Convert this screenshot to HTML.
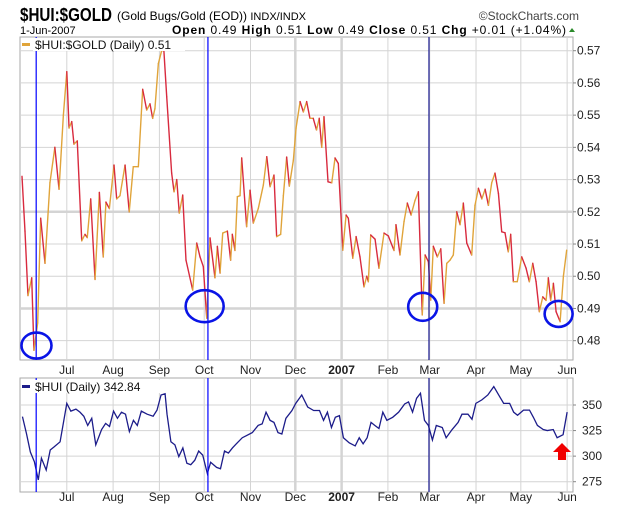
<!DOCTYPE html>
<html><head><meta charset="utf-8"><style>
body{margin:0;background:#fff;width:620px;height:511px;overflow:hidden;font-family:"Liberation Sans",Arial,sans-serif}
svg{position:absolute;left:0;top:0}
</style></head><body>
<svg width="620" height="511" xmlns="http://www.w3.org/2000/svg" id="chart">
<g id="hdr">
<text x="20" y="21" font-size="18" font-weight="bold" textLength="92" lengthAdjust="spacingAndGlyphs">$HUI:$GOLD</text>
<text x="117" y="20" font-size="12">(Gold Bugs/Gold (EOD)) <tspan font-size="11">INDX/INDX</tspan></text>
<text x="579" y="20" font-size="12" fill="#444" text-anchor="end">©StockCharts.com</text>
<text x="20" y="34" font-size="11">1-Jun-2007</text>
<text x="172" y="34" font-size="12" textLength="394" lengthAdjust="spacing"><tspan font-weight="bold">Open</tspan> 0.49  <tspan font-weight="bold">High</tspan> 0.51  <tspan font-weight="bold">Low</tspan> 0.49  <tspan font-weight="bold">Close</tspan> 0.51  <tspan font-weight="bold">Chg</tspan> +0.01 (+1.04%)</text>
<polygon points="569,32 575,32 572,28" fill="#2a8a2a"/>
</g>
<g id="main"></g>
<g id="lower"></g>
</svg>
<script>
const ratioDays=[0,2,4,6.5,8,10.5,12.5,15.4,18.7,22,24.8,27.7,30,31.5,33.3,34.8,37,40,42.2,43.7,46,48.9,51.8,54.4,56.2,58.5,61.6,63.4,65.6,69,71.8,74.5,77.9,80.8,83.5,85.7,87.5,89,91.3,93.5,95,96.9,100.2,101.8,103.6,105.3,107.6,109.8,114.3,117,119.2,121.4,123.7,125.9,129.2,130.8,132.6,134.4,137.5,139.7,140.8,142.6,144.2,146,147.1,150.4,152.7,154.9,158.2,161.6,163.9,166.1,168.7,170.5,173.2,175,177.2,179,181.7,183.5,186.2,188.4,190.6,192.8,195,197.2,199,200.7,202.2,204.9,207.4,209.6,211.8,214.8,217,218.5,221.5,223.7,226.3,229,230.8,231.9,233.5,236.4,239,242.4,245.3,249.1,250.4,253.1,255.8,258,260.5,263.2,265.4,268,269.9,272.1,273.7,275.4,278.1,280.4,282.6,284.4,286.6,288.8,291.1,293.3,295.5,297.8,301.1,303.3,305.6,307.9,310.1,312.3,314.5,316.7,319,321.2,323.4,325.6,327.2,329,331.6,334.6,337.5,339.7,342,344.2,346.4,348.7,350.9,352.4,354,355.8,357.6,360.3,362.5,364.7];
const ratioValues=[0.531,0.514,0.494,0.4995,0.477,0.4855,0.518,0.504,0.529,0.540,0.527,0.550,0.5635,0.546,0.548,0.541,0.542,0.511,0.513,0.512,0.524,0.499,0.526,0.506,0.523,0.521,0.5345,0.524,0.525,0.5345,0.520,0.534,0.534,0.558,0.5516,0.5535,0.549,0.552,0.566,0.570,0.570,0.5557,0.532,0.5262,0.530,0.5196,0.5252,0.505,0.4957,0.5103,0.506,0.503,0.487,0.5119,0.4995,0.5093,0.501,0.5134,0.514,0.505,0.513,0.508,0.5247,0.525,0.5367,0.5154,0.5267,0.5165,0.521,0.5283,0.5371,0.5278,0.5314,0.5123,0.513,0.525,0.537,0.528,0.536,0.546,0.5542,0.551,0.5542,0.549,0.549,0.5454,0.549,0.540,0.5495,0.5293,0.529,0.5367,0.535,0.5081,0.519,0.518,0.5056,0.5123,0.506,0.4967,0.500,0.4983,0.5128,0.5115,0.5025,0.5134,0.5125,0.508,0.516,0.5066,0.517,0.5227,0.519,0.5236,0.5262,0.488,0.5066,0.5045,0.4926,0.5093,0.506,0.5085,0.4916,0.504,0.505,0.5066,0.520,0.516,0.5227,0.5103,0.5066,0.522,0.5273,0.524,0.527,0.522,0.529,0.532,0.5257,0.5138,0.5135,0.5076,0.513,0.4983,0.4983,0.506,0.5025,0.4983,0.504,0.4983,0.489,0.4936,0.4925,0.4995,0.4925,0.4978,0.489,0.4859,0.500,0.5081];
const huiDays=[0.3,3,5.6,8.3,10.9,13,16.2,18.9,21.5,25.5,30,32.7,36.1,38.8,41.4,44,46.7,49.4,53.3,56,58.6,61.3,63.9,66.6,69.3,71.9,74.6,77.2,79.9,83.8,87.8,90.4,93.1,95.8,97.1,99.7,102.4,105,107.7,110.4,113,115.7,118.3,121,124.1,126.3,130.3,132.9,135.6,138.2,140.9,143.5,147.5,150.2,154.2,158.1,160.8,163.4,166.1,168.7,171.4,174,176.7,180.7,183.3,187.3,191.3,195.3,199.2,201.9,204.5,207.2,209.8,212.5,215.2,219.1,223.1,225.8,228.4,231.1,233.7,236.3,239,241.6,244.3,248.2,252.2,256.2,258.8,261.5,264.2,266.8,269.5,272.1,274.8,277.4,281.4,284,288,292,294.6,298.6,301.3,303.9,307.9,311.9,315.9,319.9,322.5,326.5,329.2,331.8,335.8,339.8,342.4,345.1,349,351.7,355.7,358.3,362.3,365];
const huiValues=[338.6,322,304,294.5,276.7,298,286.4,306,309,314,351.6,344,346,343,339,330,337,311,326,332,329,344,337,343,341,324,335,330,344,341,339,345,359.8,361,341,314,311,299.5,308,293,291.6,296,305,301,283,294,289,287.7,305,303,308,312,318,320,323,330,331.5,343,335,333,323,321.6,337,344.5,351.6,359.8,348,344.6,344.6,335,343,328,338,339.6,318,313,310,318,312,318,333,330,327,343,335,338,343,351,353,343,356.5,361.5,335,330,315.8,330,328,318,326,333,341,341,336,351.6,355,359.8,368,358,351.6,351.6,343,340,345,345,338,330,326,325,326,318,321,343];
const monthLabels=["Jul","Aug","Sep","Oct","Nov","Dec","2007","Feb","Mar","Apr","May","Jun"];
const monthDays=[30,61,92,122,153,183,214,245,273,304,334,365];
const ratioTicks=[0.48,0.49,0.50,0.51,0.52,0.53,0.54,0.55,0.56,0.57];
const huiTicks=[275,300,325,350];
const markerDays=[9.5,124.5,272.5];
const circleDays=[9.7,122.3,268.3,359.3];
const circleValues=[0.4785,0.4907,0.4905,0.4883];

const NS="http://www.w3.org/2000/svg";
const L=20,R=573;
const xs=d=>22+d*1.4935;
const yMain=v=>50.7+(0.57-v)*3222;
const yLow=v=>405+(350-v)*1.0227;
function mk(p,tag,at){const e=document.createElementNS(NS,tag);for(const k in at)e.setAttribute(k,at[k]);p.appendChild(e);return e;}
function panel(g,top,bot,ticks,yf,fmt,labelX,thick){
  const bg=mk(g,'rect',{x:L,y:top,width:R-L,height:bot-top,fill:'#fff',stroke:'#aaa','stroke-width':1});
  
  
  monthDays.forEach((d,i)=>{
    const l=mk(g,'line',{x1:xs(d),x2:xs(d),y1:top,y2:bot,stroke:'#d4d4d4','stroke-width':(i==5||i==6)?2.5:1});
    
    
  });
  ticks.forEach(t=>{
    const y=yf(t);
    const l=mk(g,'line',{x1:L,x2:R,y1:y,y2:y,stroke:'#d4d4d4','stroke-width':thick(t)?2.5:1});
    
    
    const tk=mk(g,'line',{x1:R,x2:R+3,y1:y,y2:y,stroke:'#888'});
    
    
    const tx=mk(g,'text',{x:labelX,y:y+4,'font-size':12,fill:'#222'});
    tx.textContent=fmt(t);
    
    
  });
}
function monthText(g,y){
  monthLabels.forEach((m,i)=>{
    const t=mk(g,'text',{x:xs(monthDays[i]),y:y,'font-size':12,'text-anchor':'middle',fill:'#222','font-weight':m=='2007'?'bold':'normal'});
    t.textContent=m;
    
    
  });
}
function legend(g,y,color,txt,w){
  const b=mk(g,'rect',{x:L+13,y:y,width:w,height:13,fill:'#fff',stroke:'none'});
  
  
  const s=mk(g,'rect',{x:L+2,y:y+5,width:8,height:3,fill:color});
  
  
  const t=mk(g,'text',{x:L+15,y:y+11,'font-size':12,fill:'#111'});
  t.textContent=txt;
  
  
}
const gm=document.getElementById('main'),gl=document.getElementById('lower');
panel(gm,37,360,ratioTicks,yMain,t=>t.toFixed(2),577,t=>Math.abs(t-0.52)<1e-6||Math.abs(t-0.49)<1e-6);
monthText(gm,374);
panel(gl,378,492,huiTicks,yLow,t=>String(t),582,()=>false);
monthText(gl,501);
for(let i=1;i<ratioDays.length;i++){
  const up=ratioValues[i]>=ratioValues[i-1];
  const s=mk(gm,'line',{x1:xs(ratioDays[i-1]),y1:yMain(ratioValues[i-1]),x2:xs(ratioDays[i]),y2:yMain(ratioValues[i]),stroke:up?'#e0a43a':'#d82a3e','stroke-width':1.4,'stroke-linecap':'round'});
  
  
}
const hp=mk(gl,'polyline',{points:huiDays.map((d,i)=>xs(d)+','+yLow(huiValues[i])).join(' '),fill:'none',stroke:'#1c1c8a','stroke-width':1.3});


markerDays.forEach((d,i)=>{
  [[gm,37,360],[gl,378,492]].forEach(([g,a,b])=>{
    const l=mk(g,'line',{x1:xs(d),x2:xs(d),y1:a,y2:b,stroke:i==2?'#1a1a90':'#0000ff','stroke-width':1.2});
    
    
  });
});
const rx=[15,19,14.5,14],ry=[13,16,14,13];
circleDays.forEach((d,i)=>{
  const c=mk(gm,'ellipse',{cx:xs(d),cy:yMain(circleValues[i]),rx:rx[i],ry:ry[i],fill:'none',stroke:'#0a14e6','stroke-width':2.6});
  
  
});
legend(gm,38,'#e0a43a','$HUI:$GOLD (Daily) 0.51',152);
legend(gl,380,'#1c1c8a','$HUI (Daily) 342.84',130);
const ar=mk(gl,'polygon',{points:'553,452 562,443 571,452 566,452 566,460 558,460 558,452',fill:'#f00000'});


</script>
</body></html>
